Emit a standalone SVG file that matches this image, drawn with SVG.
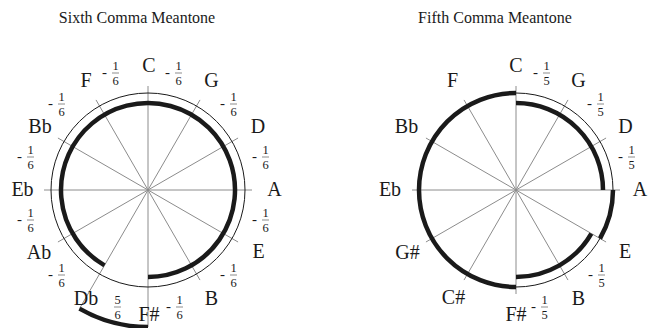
<svg xmlns="http://www.w3.org/2000/svg" width="648" height="328" viewBox="0 0 648 328">
<defs>
<style>
.t{font-family:"Liberation Serif","Times New Roman",serif;fill:#1a1a1a}
.lbl{font-size:20px;text-anchor:middle}
.ttl{font-size:16px;text-anchor:middle}
.fr{font-family:"Liberation Serif","Times New Roman",serif;font-size:12.5px;fill:#1a1a1a}
.mn{font-size:15px}
.bar{stroke:#1a1a1a;stroke-width:0.5}
.spoke{stroke:#8c8c8c;stroke-width:1;fill:none}
.thin{stroke:#1a1a1a;stroke-width:1;fill:none}
.thick{stroke:#1a1a1a;stroke-width:4.5;fill:none}
</style>
</defs>
<rect width="648" height="328" fill="#ffffff"/>
<text class="t ttl" x="137" y="23">Sixth Comma Meantone</text>
<text class="t ttl" x="495" y="23">Fifth Comma Meantone</text>

<g id="connectors">
<g id="spokes-left">
<line class="spoke" x1="148" y1="190" x2="148" y2="86"/>
<line class="spoke" x1="148" y1="190" x2="200" y2="99.93"/>
<line class="spoke" x1="148" y1="190" x2="238.07" y2="138"/>
<line class="spoke" x1="148" y1="190" x2="252" y2="190"/>
<line class="spoke" x1="148" y1="190" x2="238.07" y2="242"/>
<line class="spoke" x1="148" y1="190" x2="200" y2="280.07"/>
<line class="spoke" x1="148" y1="190" x2="148" y2="327"/>
<line class="spoke" x1="148" y1="190" x2="79.5" y2="308.65"/>
<line class="spoke" x1="148" y1="190" x2="57.93" y2="242"/>
<line class="spoke" x1="148" y1="190" x2="44" y2="190"/>
<line class="spoke" x1="148" y1="190" x2="57.93" y2="138"/>
<line class="spoke" x1="148" y1="190" x2="96" y2="99.93"/>
</g>
<g id="spokes-right">
<line class="spoke" x1="516" y1="190" x2="516" y2="86"/>
<line class="spoke" x1="516" y1="190" x2="568" y2="99.93"/>
<line class="spoke" x1="516" y1="190" x2="606.07" y2="138"/>
<line class="spoke" x1="516" y1="190" x2="620" y2="190"/>
<line class="spoke" x1="516" y1="190" x2="606.07" y2="242"/>
<line class="spoke" x1="516" y1="190" x2="568" y2="280.07"/>
<line class="spoke" x1="516" y1="190" x2="516" y2="294"/>
<line class="spoke" x1="516" y1="190" x2="464" y2="280.07"/>
<line class="spoke" x1="516" y1="190" x2="425.93" y2="242"/>
<line class="spoke" x1="516" y1="190" x2="412" y2="190"/>
<line class="spoke" x1="516" y1="190" x2="425.93" y2="138"/>
<line class="spoke" x1="516" y1="190" x2="464" y2="99.93"/>
</g>
<g id="arcs-left">
<circle class="thin" cx="148" cy="190" r="97"/>
<path class="thick" d="M148,277 A87,87 0 1 0 104.5,265.34"/>
<path class="thick" d="M148,327 A137,137 0 0 1 79.5,308.65"/>
</g>
<g id="arcs-right">
<circle class="thin" cx="516" cy="190" r="97"/>
<path class="thick" d="M516,287 A97,97 0 0 1 419,190 A97,97 0 0 1 516,93"/>
<path class="thick" d="M516,103 A87,87 0 0 1 603,190"/>
<path class="thick" d="M613,190 A97,97 0 0 1 600.0,238.5"/>
<path class="thick" d="M591.34,233.5 A87,87 0 0 1 516,277"/>
</g>
</g>

<g id="left-labels">
<g id="L-C"><text class="t lbl" x="149" y="72">C</text></g>
<g id="L-G"><text class="t lbl" x="211.5" y="87">G</text></g>
<g id="L-D"><text class="t lbl" x="258" y="133">D</text></g>
<g id="L-A"><text class="t lbl" x="274.5" y="196">A</text></g>
<g id="L-E"><text class="t lbl" x="258.5" y="258">E</text></g>
<g id="L-B"><text class="t lbl" x="211.5" y="305">B</text></g>
<g id="L-Fs"><text class="t lbl" x="149" y="321">F#</text></g>
<g id="L-Db"><text class="t lbl" x="86" y="305">Db</text></g>
<g id="L-Ab"><text class="t lbl" x="39" y="259">Ab</text></g>
<g id="L-Eb"><text class="t lbl" x="22.5" y="196">Eb</text></g>
<g id="L-Bb"><text class="t lbl" x="40" y="133">Bb</text></g>
<g id="L-F"><text class="t lbl" x="86" y="87">F</text></g>
</g>

<g id="left-fractions">
<g transform="translate(102,73)"><text class="fr"><tspan class="mn" x="0" y="3.5">-</tspan><tspan x="10.4" y="-3">1</tspan><tspan x="10.4" y="12.2">6</tspan></text><line class="bar" x1="10" y1="0" x2="17" y2="0"/></g>
<g transform="translate(165,73)"><text class="fr"><tspan class="mn" x="0" y="3.5">-</tspan><tspan x="10.4" y="-3">1</tspan><tspan x="10.4" y="12.2">6</tspan></text><line class="bar" x1="10" y1="0" x2="17" y2="0"/></g>
<g transform="translate(220,104)"><text class="fr"><tspan class="mn" x="0" y="3.5">-</tspan><tspan x="10.4" y="-3">1</tspan><tspan x="10.4" y="12.2">6</tspan></text><line class="bar" x1="10" y1="0" x2="17" y2="0"/></g>
<g transform="translate(252,157)"><text class="fr"><tspan class="mn" x="0" y="3.5">-</tspan><tspan x="10.4" y="-3">1</tspan><tspan x="10.4" y="12.2">6</tspan></text><line class="bar" x1="10" y1="0" x2="17" y2="0"/></g>
<g transform="translate(252,220)"><text class="fr"><tspan class="mn" x="0" y="3.5">-</tspan><tspan x="10.4" y="-3">1</tspan><tspan x="10.4" y="12.2">6</tspan></text><line class="bar" x1="10" y1="0" x2="17" y2="0"/></g>
<g transform="translate(220,275)"><text class="fr"><tspan class="mn" x="0" y="3.5">-</tspan><tspan x="10.4" y="-3">1</tspan><tspan x="10.4" y="12.2">6</tspan></text><line class="bar" x1="10" y1="0" x2="17" y2="0"/></g>
<g transform="translate(166,307)"><text class="fr"><tspan class="mn" x="0" y="3.5">-</tspan><tspan x="10.4" y="-3">1</tspan><tspan x="10.4" y="12.2">6</tspan></text><line class="bar" x1="10" y1="0" x2="17" y2="0"/></g>
<g transform="translate(104,307)"><text class="fr"><tspan x="10.4" y="-3">5</tspan><tspan x="10.4" y="12.2">6</tspan></text><line class="bar" x1="10" y1="0" x2="17" y2="0"/></g>
<g transform="translate(48,275)"><text class="fr"><tspan class="mn" x="0" y="3.5">-</tspan><tspan x="10.4" y="-3">1</tspan><tspan x="10.4" y="12.2">6</tspan></text><line class="bar" x1="10" y1="0" x2="17" y2="0"/></g>
<g transform="translate(17,220)"><text class="fr"><tspan class="mn" x="0" y="3.5">-</tspan><tspan x="10.4" y="-3">1</tspan><tspan x="10.4" y="12.2">6</tspan></text><line class="bar" x1="10" y1="0" x2="17" y2="0"/></g>
<g transform="translate(17,157)"><text class="fr"><tspan class="mn" x="0" y="3.5">-</tspan><tspan x="10.4" y="-3">1</tspan><tspan x="10.4" y="12.2">6</tspan></text><line class="bar" x1="10" y1="0" x2="17" y2="0"/></g>
<g transform="translate(48,104)"><text class="fr"><tspan class="mn" x="0" y="3.5">-</tspan><tspan x="10.4" y="-3">1</tspan><tspan x="10.4" y="12.2">6</tspan></text><line class="bar" x1="10" y1="0" x2="17" y2="0"/></g>
</g>

<g id="right-labels">
<g id="R-C"><text class="t lbl" x="516" y="72">C</text></g>
<g id="R-G"><text class="t lbl" x="578.5" y="87">G</text></g>
<g id="R-D"><text class="t lbl" x="625.5" y="133">D</text></g>
<g id="R-A"><text class="t lbl" x="640" y="196">A</text></g>
<g id="R-E"><text class="t lbl" x="625" y="258">E</text></g>
<g id="R-B"><text class="t lbl" x="578.5" y="305">B</text></g>
<g id="R-Fs"><text class="t lbl" x="516" y="321">F#</text></g>
<g id="R-Cs"><text class="t lbl" x="453.5" y="304">C#</text></g>
<g id="R-Gs"><text class="t lbl" x="407.5" y="259">G#</text></g>
<g id="R-Eb"><text class="t lbl" x="390" y="196">Eb</text></g>
<g id="R-Bb"><text class="t lbl" x="406.5" y="133">Bb</text></g>
<g id="R-F"><text class="t lbl" x="452.5" y="87">F</text></g>
</g>

<g id="right-fractions">
<g transform="translate(533,73)"><text class="fr"><tspan class="mn" x="0" y="3.5">-</tspan><tspan x="10.4" y="-3">1</tspan><tspan x="10.4" y="12.2">5</tspan></text><line class="bar" x1="10" y1="0" x2="17" y2="0"/></g>
<g transform="translate(587,104)"><text class="fr"><tspan class="mn" x="0" y="3.5">-</tspan><tspan x="10.4" y="-3">1</tspan><tspan x="10.4" y="12.2">5</tspan></text><line class="bar" x1="10" y1="0" x2="17" y2="0"/></g>
<g transform="translate(618,157)"><text class="fr"><tspan class="mn" x="0" y="3.5">-</tspan><tspan x="10.4" y="-3">1</tspan><tspan x="10.4" y="12.2">5</tspan></text><line class="bar" x1="10" y1="0" x2="17" y2="0"/></g>
<g transform="translate(588,275)"><text class="fr"><tspan class="mn" x="0" y="3.5">-</tspan><tspan x="10.4" y="-3">1</tspan><tspan x="10.4" y="12.2">5</tspan></text><line class="bar" x1="10" y1="0" x2="17" y2="0"/></g>
<g transform="translate(531,307)"><text class="fr"><tspan class="mn" x="0" y="3.5">-</tspan><tspan x="10.4" y="-3">1</tspan><tspan x="10.4" y="12.2">5</tspan></text><line class="bar" x1="10" y1="0" x2="17" y2="0"/></g>
</g>
</svg>
